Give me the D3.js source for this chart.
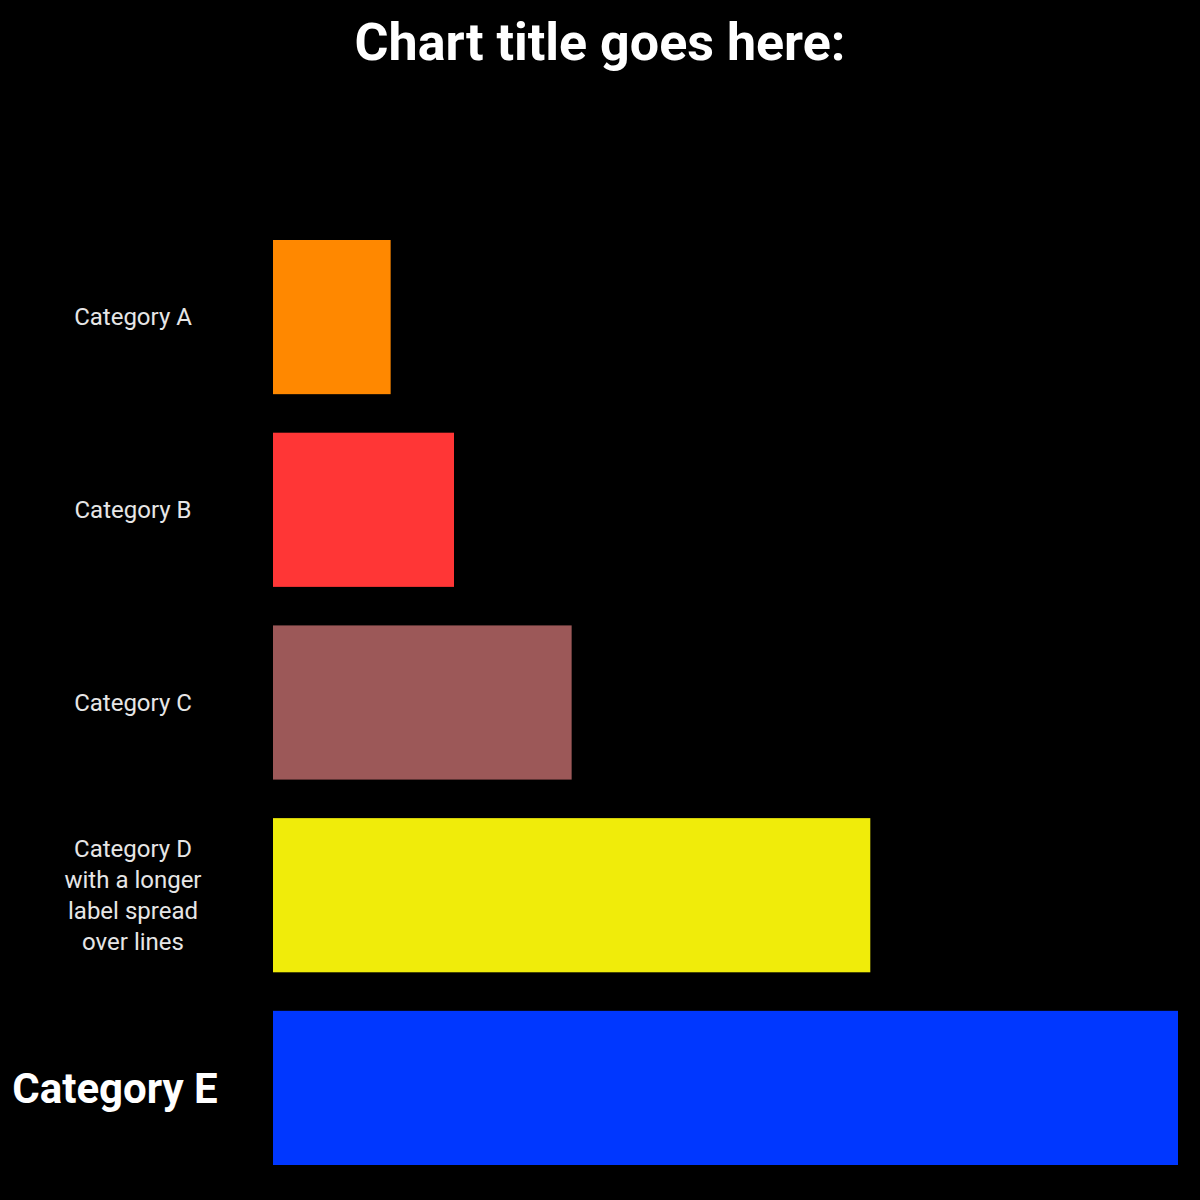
<!DOCTYPE html>
<html>
<head>
<meta charset="utf-8">
<script src="https://cdn.jsdelivr.net/npm/d3@7"></script>
<style>
  body { margin: 0; background: #000; }
</style>
</head>
<body>
<script>
// chart parameters
const width = 1200;
const height = 1200;
const margin = { top: 240, right: 22, bottom: 35, left: 273 };

// data (placeholder labels, bar lengths)
const titleText = 'Chart title goes here:';
const categories = ['A', 'B', 'C', 'D', 'E'];
const labels = [
   ['Category A'],
   ['Category B'],
   ['Category C'],
   ['Category D', 'with a longer', 'label spread', 'over lines'],
   ['Category E']
];
const values = [13, 20, 33, 66, 100];
const colors = ['#ff8800', '#ff3636', '#9c5858', '#f0ec0a', '#0037ff'];

const svg = d3.select('body')
   .append('svg')
   .attr('width', width)
   .attr('height', height)
   .style('background', '#000');

// horizontal scale
const x = d3.scaleLinear()
   .domain([0, 100])
   .range([margin.left, width - margin.right]);

// vertical scale
const y = d3.scaleBand()
   .domain(categories)
   .range([margin.top, height - margin.bottom])
   .paddingInner(0.2);

// title
svg.append('text')
   .attr('x', width / 2)
   .attr('y', 60)
   .attr('text-anchor', 'middle')
   .attr('fill', '#fff')
   .style('font-family', '"Liberation Sans Narrow", "Roboto", sans-serif')
   .style('font-weight', 'bold')
   .style('font-size', '52px')
   .text(titleText);

// bars
svg.append('g')
   .selectAll('rect')
   .data(categories)
   .join('rect')
      .attr('x', x(0))
      .attr('y', d => y(d))
      .attr('width', (d, i) => x(values[i]) - x(0))
      .attr('height', y.bandwidth())
      .attr('fill', (d, i) => colors[i]);

// labels on the left
const labelGroup = svg.append('g');
categories.forEach((c, i) => {
   const last = i === categories.length - 1;
   const lineH = last ? 58 : 31;
   const lines = labels[i];
   const cy = y(c) + y.bandwidth() / 2;
   const t = labelGroup.append('text')
      .attr('text-anchor', 'middle')
      .attr('fill', last ? '#fff' : '#e6e6e6')
      .style('font-family', last ? '"Liberation Sans Narrow", "Roboto", sans-serif' : 'Roboto, sans-serif')
      .style('font-weight', last ? 'bold' : 'normal')
      .style('font-size', last ? '42px' : '24px');
   lines.forEach((l, j) => {
      t.append('tspan')
         .attr('x', last ? 115 : 133)
         .attr('y', cy + (j - (lines.length - 1) / 2) * lineH)
         .attr('dy', '0.35em')
         .text(l);
   });
});
</script>
</body>
</html>
